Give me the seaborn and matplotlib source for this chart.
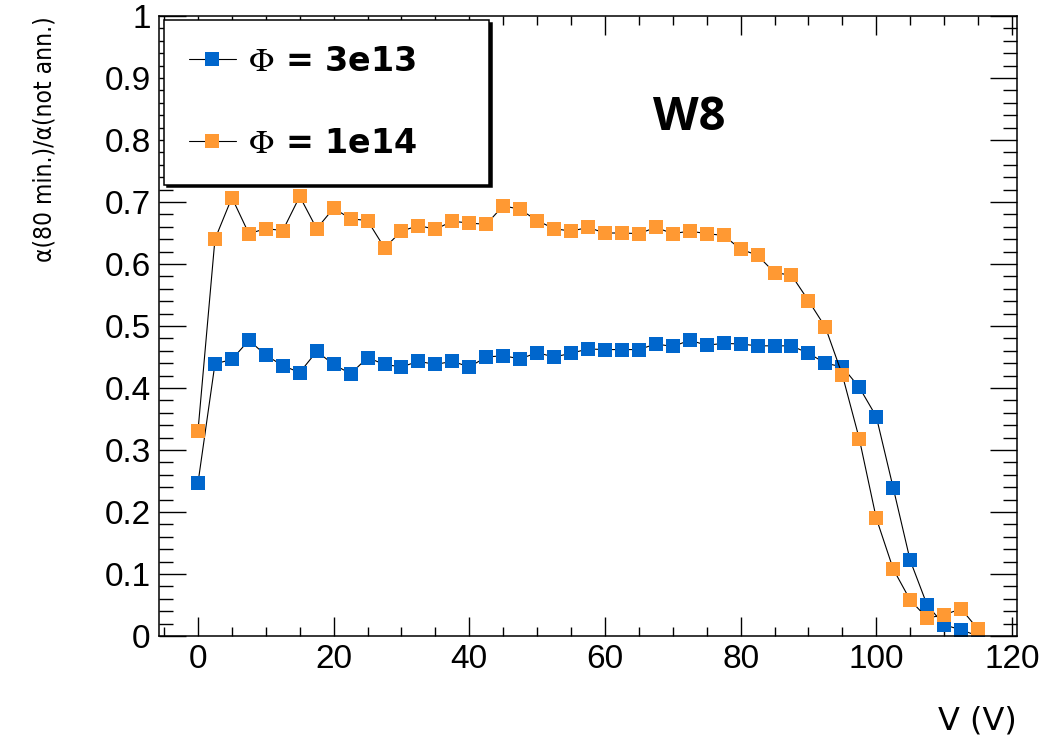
import matplotlib
matplotlib.use("Agg")
import matplotlib.pyplot as plt
import matplotlib.font_manager as fm
from matplotlib.ticker import MultipleLocator, FuncFormatter
import seaborn as sns
import pandas as pd

# ---------------- data ----------------
voltage = [0, 2.5, 5, 7.5, 10, 12.5, 15, 17.5, 20, 22.5, 25, 27.5, 30, 32.5, 35, 37.5,
           40, 42.5, 45, 47.5, 50, 52.5, 55, 57.5, 60, 62.5, 65, 67.5, 70, 72.5, 75, 77.5,
           80, 82.5, 85, 87.5, 90, 92.5, 95, 97.5, 100, 102.5, 105, 107.5, 110, 112.5, 115]
ratio_3e13 = [0.247, 0.439, 0.446, 0.477, 0.453, 0.436, 0.425, 0.459, 0.438, 0.423, 0.449,
              0.438, 0.434, 0.443, 0.438, 0.443, 0.434, 0.450, 0.452, 0.447, 0.457, 0.450,
              0.456, 0.463, 0.462, 0.462, 0.462, 0.471, 0.467, 0.477, 0.469, 0.472, 0.471,
              0.468, 0.468, 0.468, 0.456, 0.440, 0.434, 0.401, 0.354, 0.239, 0.122, 0.050,
              0.018, 0.010, 0.0]
ratio_1e14 = [0.331, 0.640, 0.707, 0.649, 0.657, 0.654, 0.709, 0.657, 0.690, 0.673, 0.670,
              0.626, 0.653, 0.662, 0.656, 0.669, 0.666, 0.664, 0.694, 0.688, 0.670, 0.657,
              0.653, 0.659, 0.650, 0.650, 0.649, 0.659, 0.649, 0.653, 0.649, 0.646, 0.624,
              0.614, 0.586, 0.582, 0.541, 0.498, 0.421, 0.318, 0.190, 0.108, 0.058, 0.029,
              0.034, 0.044, 0.011]
series_labels = [r"$\Phi$ = 3e13", r"$\Phi$ = 1e14"]
series_colors = ["#0066CC", "#FF9933"]
x_label = "V (V)"
y_label = "α(80 min.)/α(not ann.)"
annotation = "W8"

# ---------------- style ----------------
sns.set_theme(style="ticks")
plt.rcParams["font.family"] = ["Liberation Sans", "DejaVu Sans"]
plt.rcParams["mathtext.fontset"] = "stix"
plt.rcParams["text.color"] = "black"
plt.rcParams["axes.labelcolor"] = "black"
plt.rcParams["xtick.color"] = "black"
plt.rcParams["ytick.color"] = "black"

fonts = fm.fontManager.ttflist
names = {f.name for f in fonts}
ylab_kw = dict(fontsize=18.5, family="Liberation Sans")
if "Liberation Sans Narrow" in names:
    ylab_kw = dict(fontsize=22, family="Liberation Sans Narrow")
elif any(f.name == "DejaVu Sans" and str(f.stretch) in ("condensed", "semi-condensed")
         for f in fonts):
    ylab_kw = dict(fontsize=17.6, family="DejaVu Sans", fontstretch="condensed")
elif "Roboto Condensed" in names:
    ylab_kw = dict(fontsize=22, family="Roboto Condensed")

fig = plt.figure(figsize=(10.48, 7.40), dpi=100)
ax = fig.add_axes([159 / 1048, 1 - 636 / 740, (1017 - 159) / 1048, (636 - 16) / 740])

for vals, lab, col in zip([ratio_3e13, ratio_1e14], series_labels, series_colors):
    df = pd.DataFrame({"V": voltage, "ratio": vals})
    sns.lineplot(data=df, x="V", y="ratio", ax=ax, color="black", linewidth=0.8,
                 marker="s", markersize=9.6, markerfacecolor=col, markeredgecolor=col,
                 markeredgewidth=0, errorbar=None, sort=False, label=lab)

ax.set_xlim(-5.75, 120.75)
ax.set_ylim(0, 1)
ax.xaxis.set_major_locator(MultipleLocator(20))
ax.xaxis.set_minor_locator(MultipleLocator(5))
ax.yaxis.set_major_locator(MultipleLocator(0.1))
ax.yaxis.set_minor_locator(MultipleLocator(0.02))
ax.yaxis.set_major_formatter(FuncFormatter(lambda v, _: f"{v:g}"))
ax.xaxis.set_major_formatter(FuncFormatter(lambda v, _: f"{v:g}"))

for s in ax.spines.values():
    s.set_linewidth(1.1)
    s.set_color("black")
    s.set_visible(True)

ax.tick_params(axis="both", which="both", direction="in", top=True, right=True,
               width=1.0, color="black", labelsize=24, labelcolor="black")
ax.tick_params(axis="x", which="major", length=13.7, pad=6)
ax.tick_params(axis="x", which="minor", length=6.5)
ax.tick_params(axis="y", which="major", length=19.4, pad=6)
ax.tick_params(axis="y", which="minor", length=10)

ax.set_ylabel(y_label, loc="top", color="black", **ylab_kw)
ax.yaxis.set_label_coords((57 - 159) / 858, 1.0)
ax.set_xlabel(x_label, fontsize=23, family="DejaVu Sans", loc="right", color="black")
ax.xaxis.set_label_coords(1.0, (636 - 706) / 620)

ax.text((689 - 159) / 858, (636 - 130) / 620, annotation, transform=ax.transAxes,
        ha="center", va="baseline", fontsize=34, fontweight="bold", family="Open Sans",
        color="black")

leg = ax.legend(loc="upper left",
                bbox_to_anchor=((164 - 159) / 858, (636 - 183) / 620,
                                (489 - 164) / 858, (183 - 20) / 620),
                mode="expand", borderaxespad=0, fancybox=False, frameon=True,
                edgecolor="black", framealpha=1,
                shadow={"color": "black", "alpha": 1},
                prop={"family": "DejaVu Sans", "weight": "bold", "size": 24},
                labelcolor="black",
                handlelength=1.4, handletextpad=0.36, labelspacing=1.46,
                borderpad=0.75)
leg.get_frame().set_linewidth(1.1)

fig.savefig("out.png", dpi=100, facecolor="white")
